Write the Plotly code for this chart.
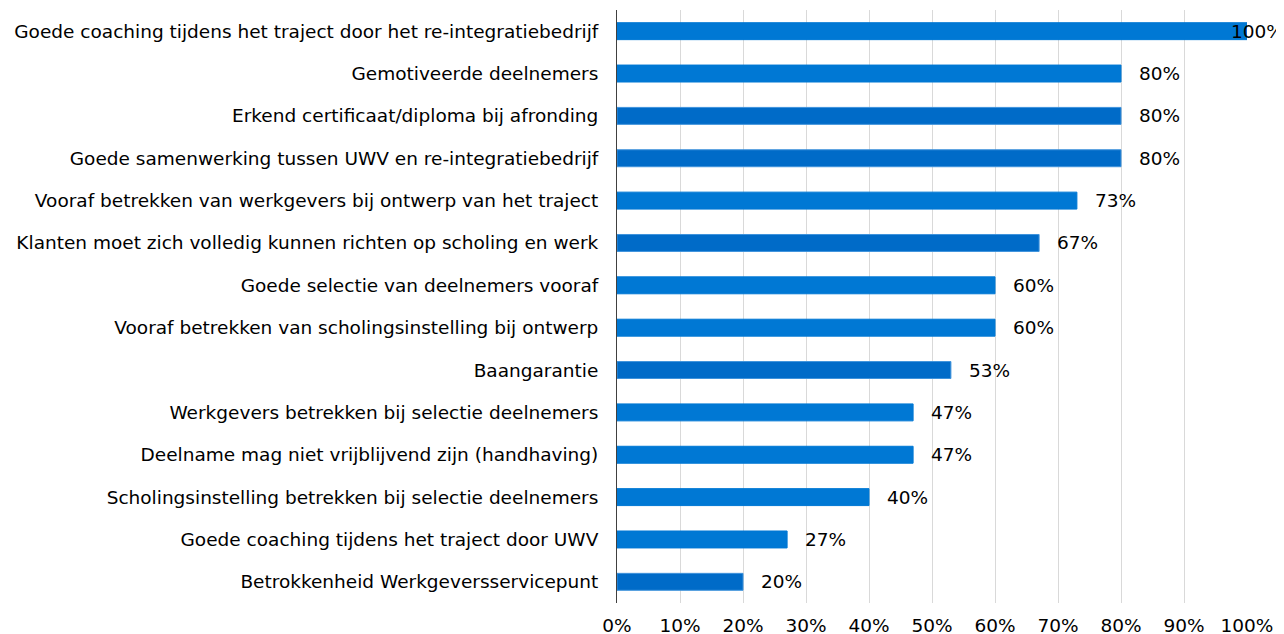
import plotly.graph_objects as go

categories = [
    "Goede coaching tijdens het traject door het re-integratiebedrijf",
    "Gemotiveerde deelnemers",
    "Erkend certificaat/diploma bij afronding",
    "Goede samenwerking tussen UWV en re-integratiebedrijf",
    "Vooraf betrekken van werkgevers bij ontwerp van het traject",
    "Klanten moet zich volledig kunnen richten op scholing en werk",
    "Goede selectie van deelnemers vooraf",
    "Vooraf betrekken van scholingsinstelling bij ontwerp",
    "Baangarantie",
    "Werkgevers betrekken bij selectie deelnemers",
    "Deelname mag niet vrijblijvend zijn (handhaving)",
    "Scholingsinstelling betrekken bij selectie deelnemers",
    "Goede coaching tijdens het traject door UWV",
    "Betrokkenheid Werkgeversservicepunt",
]
values = [100, 80, 80, 80, 73, 67, 60, 60, 53, 47, 47, 40, 27, 20]
dark_rows = [False, False, True, True, False, True, False, False, True, False, False, False, False, True]

LIGHT = "#0078D4"
DARK = "#006BC8"
FONT = "DejaVu Sans, Verdana, sans-serif"
FS = 18.5

fig = go.Figure()
fig.add_trace(go.Bar(
    x=values, y=categories, orientation="h", width=0.4,
    marker=dict(
        color=[DARK if d else LIGHT for d in dark_rows],
        line=dict(color=["#3F93DC" if d else LIGHT for d in dark_rows], width=1),
    ),
    hoverinfo="x+y",
))

# value labels sit just past the bar end; the 100% one is pulled back inside
for cat, v in zip(categories, values):
    fig.add_annotation(
        x=v, y=cat, text=f"{v}%", showarrow=False,
        xanchor="left", xshift=-18 if v >= 100 else 16,
        font=dict(family=FONT, size=FS, color="#000000"),
    )

fig.update_layout(
    width=1284, height=634,
    margin=dict(l=609, r=45, t=2, b=39),
    plot_bgcolor="white", paper_bgcolor="white",
    showlegend=False,
    font=dict(family=FONT, size=FS, color="#000000"),
    bargap=0.6,
)
fig.update_xaxes(
    range=[0, 100], tickvals=list(range(0, 101, 10)),
    ticktext=[f"{t}%" for t in range(0, 101, 10)],
    showgrid=True, gridcolor="#D9D9D9", gridwidth=1,
    zeroline=False, showline=False, ticks="", ticklabelstandoff=9,
    tickfont=dict(family=FONT, size=FS), automargin=False,
)
fig.update_yaxes(
    autorange="reversed", showline=True, linecolor="#404040", linewidth=1,
    ticks="", showgrid=False, ticklabelstandoff=14,
    tickfont=dict(family=FONT, size=FS), automargin=False,
)

fig.write_html("out.html")
